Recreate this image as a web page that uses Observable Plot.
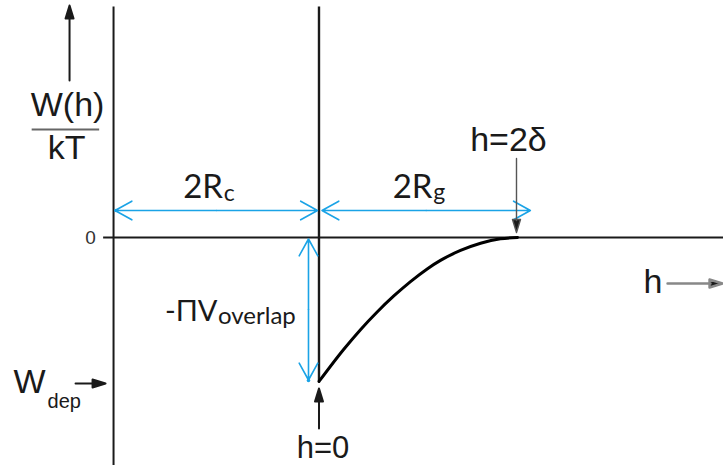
<!DOCTYPE html>
<html>
<head>
<meta charset="utf-8">
<script src="https://cdn.jsdelivr.net/npm/d3@7"></script>
<script src="https://cdn.jsdelivr.net/npm/@observablehq/plot@0.6"></script>
<style>
  html, body { margin: 0; padding: 0; background: #fff; }
  #chart { width: 723px; height: 465px; }
</style>
</head>
<body>
<div id="chart"></div>
<script>
// Depletion potential W(h)/kT between two colloids, h = surface separation.
// h in units of 2δ, W in units of the contact value |W_dep|.
const hValues = [0, 0.125, 0.209, 0.293, 0.377, 0.461, 0.545, 0.612, 0.713, 0.814, 0.914, 1];
const wValues = [-1, -0.776, -0.640, -0.517, -0.406, -0.306, -0.218, -0.159, -0.090, -0.040, -0.009, 0];

// Characteristic lengths and energies
const twoRc = 1.035;     // colloid diameter 2Rc
const twoRg = 1.08;      // polymer coil size 2Rg
const twoDelta = 1;      // range of the potential, h = 2δ
const wDep = -1;         // contact value W_dep = -Π V_overlap
const yTicks = [0];
const yTickLabels = ["0"];

const curve = hValues.map((h, i) => ({h, w: wValues[i]}));

const xDomain = [-1.6045, 2.0378];
const yDomain = [-1.5833, 1.6458];
const yTop = 1.6;

const cyan = "#1aa3e6";
const ink = "#1a1a1a";
const sans = "'Liberation Sans', Arial, sans-serif";
const soft = "Lato, 'Open Sans', sans-serif";

// Filled triangular arrowhead with a shaft, drawn pointing up before rotation
const arrowShape = {
  draw(ctx, l) {
    const hl = 13, hw = 4;
    ctx.moveTo(0, 0);
    ctx.lineTo(0, -l + hl - 1);
    ctx.moveTo(0, -l);
    ctx.lineTo(-hw, -l + hl);
    ctx.lineTo(hw, -l + hl);
    ctx.closePath();
  }
};

function pointer(x, y, opts) {
  return Plot.vector([0], {
    x: () => x, y: () => y, anchor: "end", shape: arrowShape,
    fill: ink, stroke: opts.stroke ?? ink, strokeWidth: opts.strokeWidth ?? 2,
    ...opts
  });
}

// Two-headed dimension arrow from a to b (drawn as two halves from the middle)
function span(a, b, horizontal, opts) {
  const m = (a + b) / 2;
  const rows = [[m, a], [m, b]];
  const ch = horizontal
    ? {x1: d => d[0], x2: d => d[1], y1: () => 0, y2: () => 0}
    : {y1: d => d[0], y2: d => d[1], x1: () => 0, x2: () => 0};
  return Plot.arrow(rows, {
    ...ch, stroke: cyan, strokeWidth: 1.6, headLength: 18, headAngle: 58,
    insetEnd: 1.5, ...opts
  });
}

function label(text, x, y, opts) {
  return Plot.text([text], {
    x: () => x, y: () => y, text: d => d, lineAnchor: "bottom",
    fill: ink, fontFamily: sans, fontSize: 34, ...opts
  });
}

const chart = Plot.plot({
  width: 723,
  height: 465,
  margin: 0,
  x: {domain: xDomain, axis: null},
  y: {domain: yDomain, axis: null},
  style: {background: "#fff", overflow: "visible"},
  marks: [
    // axes frame
    Plot.ruleX([-twoRc], {y1: yDomain[0], y2: yTop, stroke: ink, strokeWidth: 2}),
    Plot.ruleX([0], {y1: wDep, y2: yTop, stroke: ink, strokeWidth: 2.4}),
    Plot.ruleY(yTicks, {x1: -twoRc - 0.05, x2: xDomain[1], stroke: ink, strokeWidth: 2}),
    Plot.text(yTicks, {x: -twoRc, y: d => d, text: (d, i) => yTickLabels[i], dx: -23, dy: 6,
      lineAnchor: "bottom", fontFamily: sans, fontSize: 19, fill: "#333"}),

    // potential curve
    Plot.line(curve, {x: "h", y: "w", stroke: "#000", strokeWidth: 3, curve: "monotone-x"}),

    // dimension arrows
    span(-twoRc, 0, true, {dy: -27}),
    span(0, twoRg, true, {dy: -27, insetEnd: 3}),
    span(0, wDep, false, {dx: -10.5}),
    Plot.dot([0], {x: () => -twoRc, y: () => 0, dx: 2.5, dy: -27, r: 1.8, fill: cyan}),
    Plot.dot([0], {x: () => 0, y: () => wDep, dx: -10.5, dy: -1, r: 1.8, fill: cyan}),

    label("2R", -twoRc / 2, 0, {fontFamily: soft, fontSize: 33, textAnchor: "end", dx: 6.7, dy: -40}),
    label("c", -twoRc / 2, 0, {fontFamily: soft, fontSize: 23, textAnchor: "start", dx: 7.5, dy: -37}),
    label("2R", twoRg / 2, 0, {fontFamily: soft, fontSize: 33, textAnchor: "end", dx: 6.3, dy: -40}),
    label("g", twoRg / 2, 0, {fontFamily: soft, fontSize: 23, textAnchor: "start", dx: 7, dy: -38}),
    label("-ΠV", 0, wDep / 2, {fontFamily: soft, fontSize: 29, textAnchor: "end", dx: -101.5, dy: 11}),
    label("overlap", 0, wDep / 2, {fontFamily: soft, fontSize: 24, textAnchor: "start", dx: -101, dy: 14}),

    // axis titles
    label("W(h)", -twoRc, 0, {dx: -46, dy: -122}),
    Plot.ruleY([0], {x1: -twoRc - 0.41, x2: -twoRc - 0.07, dy: -108, stroke: "#666", strokeWidth: 2}),
    label("kT", -twoRc, 0, {dx: -47, dy: -79}),
    pointer(-twoRc, 0, {dx: -44, dy: -232, rotate: 0, length: 75}),
    label("h", xDomain[1], 0, {textAnchor: "start", dx: -80, dy: 55}),
    pointer(xDomain[1], 0, {dx: -1, dy: 46, rotate: 90, length: 55, stroke: "#888", strokeWidth: 2.4}),

    // markers for h = 2δ, h = 0 and W_dep
    label("h=2δ", twoDelta, 0, {dx: -9, dy: -87}),
    pointer(twoDelta, 0, {dx: -1, dy: -5, rotate: 180, length: 74, stroke: "#555", strokeWidth: 1.4}),
    label("h=0", 0, wDep, {dx: 4, dy: 76, fontSize: 31}),
    pointer(0, wDep, {dy: 7, rotate: 0, length: 40}),
    label("W", -twoRc, wDep, {textAnchor: "start", dx: -100, dy: 11}),
    label("dep", -twoRc, wDep, {textAnchor: "start", dx: -66, dy: 26, fontSize: 20}),
    pointer(-twoRc, wDep, {dx: -8, dy: 2, rotate: 90, length: 30})
  ]
});

document.getElementById("chart").append(chart);
</script>
</body>
</html>
